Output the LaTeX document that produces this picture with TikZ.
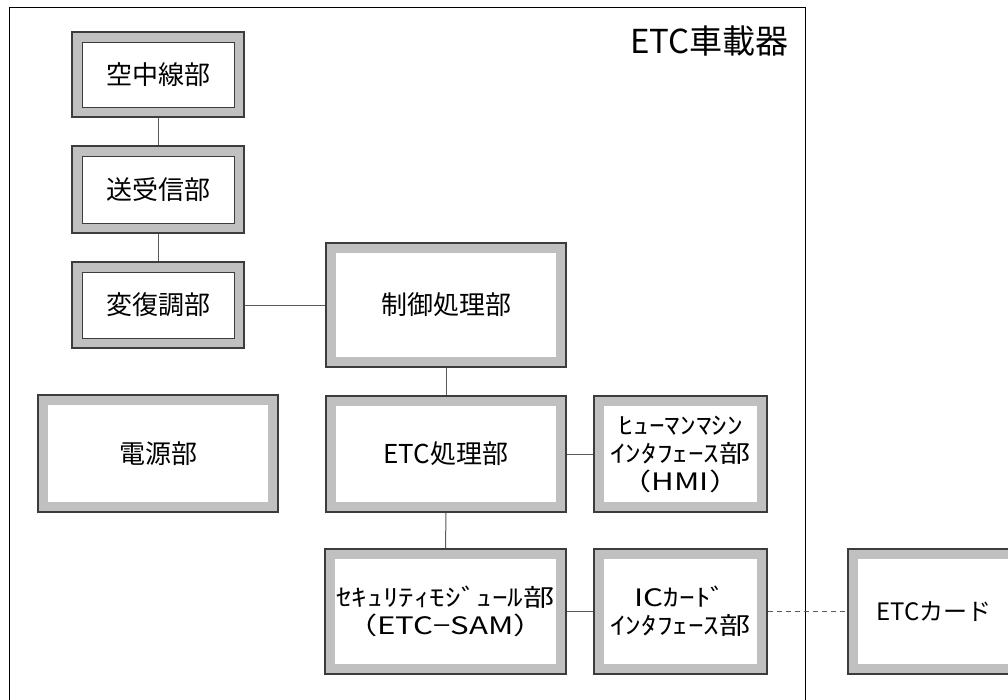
\documentclass[tikz,border=0pt]{standalone}
\usepackage{fontspec}
\newfontfamily\jp{Noto Sans CJK JP}
\newfontfamily\jphw[FakeStretch=1.3]{Noto Sans CJK JP}
\definecolor{frame}{HTML}{C0C0C0}
\definecolor{edge}{HTML}{3C3C3C}
\definecolor{conn}{HTML}{5A5A5A}
\tikzset{
  unitbox/.style={draw=edge, line width=1.3pt, fill=frame, inner sep=0pt, align=center,
    font=\jp\fontsize{26}{30}\selectfont,
    path picture={\fill[white] ([shift={(10pt,-10pt)}]path picture bounding box.north west) rectangle ([shift={(-10pt,10pt)}]path picture bounding box.south east);}},
  smallbox/.style={unitbox, minimum width=172pt,
    path picture={\filldraw[fill=white, draw=edge, line width=0.9pt] ([shift={(10pt,-10pt)}]path picture bounding box.north west) rectangle ([shift={(-10pt,10pt)}]path picture bounding box.south east);}},
  link/.style={draw=conn, line width=1pt},
  hwtext/.style={font=\jphw\fontsize{24}{28}\selectfont},
}
\begin{document}
\begin{tikzpicture}[x=1pt, y=-1pt]
\useasboundingbox (0,0) rectangle (1008,699);
\clip (0,0) rectangle (1008,699);
\fill[white] (0,0) rectangle (1008,699);
% container
\node[draw=black, line width=1pt, minimum width=796pt, minimum height=730pt, inner sep=0pt, anchor=north west] (outer) at (9,7) {};
\node[font=\jp\fontsize{33}{37}\selectfont, anchor=east] (title) at (792,41) {ETC車載器};
% boxes
\node[smallbox, minimum height=85pt] (ant) at (158,74.5) {空中線部};
\node[smallbox, minimum height=87pt] (trx) at (158,189.5) {送受信部};
\node[smallbox, minimum height=86pt] (mod) at (158,305) {変復調部};
\node[unitbox, minimum width=240pt, minimum height=124pt] (ctl) at (446,305) {制御処理部};
\node[unitbox, minimum width=240pt, minimum height=117pt] (pwr) at (158,453.5) {電源部};
\node[unitbox, minimum width=240pt, minimum height=116pt] (etc) at (446,454) {ETC処理部};
\node[unitbox, minimum width=173pt, minimum height=116pt, hwtext] (hmi) at (680.5,454) {ﾋｭｰﾏﾝﾏｼﾝ\\ｲﾝﾀﾌｪｰｽ部\\（HMI）};
\node[unitbox, minimum width=241pt, minimum height=125pt, hwtext] (sam) at (445.5,611.5) {ｾｷｭﾘﾃｨﾓｼﾞｭｰﾙ部\\（ETC−SAM）};
\node[unitbox, minimum width=173pt, minimum height=125pt, hwtext] (icif) at (680.5,611.5) {ICｶｰﾄﾞ\\ｲﾝﾀﾌｪｰｽ部};
\node[unitbox, minimum width=172pt, minimum height=125pt, font=\jp\fontsize{24}{28}\selectfont] (card) at (934,611.5) {ETCカード};
% connectors
\draw[link] (ant.south) -- (trx.north);
\draw[link] (trx.south) -- (mod.north);
\draw[link] (mod.east) -- (ctl.west);
\draw[link] (ctl.south) -- (etc.north);
\draw[link] (etc.east) -- (hmi.west);
\draw[link] (etc.south) -- (sam.north);
\draw[link] (sam.east) -- (icif.west);
\draw[link, dash pattern=on 5pt off 4pt] (icif.east) -- (card.west);
\end{tikzpicture}
\end{document}
